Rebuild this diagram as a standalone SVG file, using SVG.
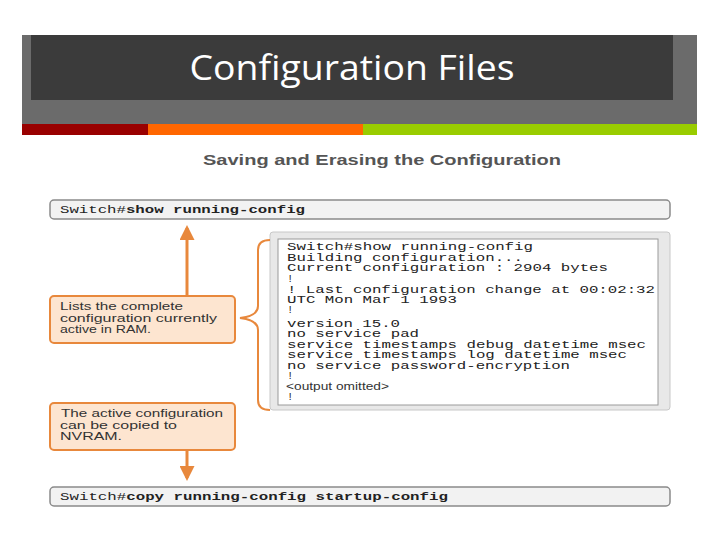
<svg xmlns="http://www.w3.org/2000/svg" width="720" height="540" viewBox="0 0 720 540">
<defs>
<style>
.mono{font-family:"Liberation Mono","DejaVu Sans Mono",monospace;font-size:10.5px;fill:#222}
.b{font-weight:bold}
.call{font-family:"Liberation Sans",Arial,sans-serif;font-size:11px;fill:#333}
.cmdbox{fill:#f2f2f2;stroke:#8a8a8a;stroke-width:1.5}
.callbox{fill:#fde5d0;stroke:#e8883c;stroke-width:2}
.arrow{stroke:#e8883c;stroke-width:3;fill:none}
</style>
<marker id="ah" viewBox="0 0 10 10" refX="8" refY="5" markerWidth="5" markerHeight="5" orient="auto">
<path d="M0,0 L10,5 L0,10 z" fill="#e8883c"/>
</marker>
</defs>
<rect width="720" height="540" fill="#ffffff"/>
<g id="header">
<rect x="22" y="35" width="675" height="89" fill="#6b6b6b"/>
<rect x="31" y="35" width="642" height="65" fill="#3b3b3b"/>
<text x="352" y="80" text-anchor="middle" font-family="Open Sans, Liberation Sans, sans-serif" font-size="34" fill="#ffffff" textLength="325" lengthAdjust="spacingAndGlyphs">Configuration Files</text>
<rect x="22" y="124" width="126" height="11" fill="#990000"/>
<rect x="148" y="124" width="215" height="11" fill="#ff6600"/>
<rect x="363" y="124" width="334" height="11" fill="#99cc00"/>
</g>
<g id="subtitle">
<text x="382" y="165" text-anchor="middle" font-family="Liberation Sans, Arial, sans-serif" font-size="14" font-weight="bold" fill="#555" textLength="358" lengthAdjust="spacingAndGlyphs">Saving and Erasing the Configuration</text>
</g>
<g id="cmd1">
<rect class="cmdbox" x="50" y="200" width="620" height="19" rx="4"/>
<text class="mono" x="60" y="213" textLength="245" lengthAdjust="spacingAndGlyphs">Switch#<tspan class="b">show running-config</tspan></text>
</g>
<g id="callout1">
<rect class="callbox" x="50" y="296" width="185" height="47" rx="4"/>
<text class="call" x="60" y="310" textLength="123" lengthAdjust="spacingAndGlyphs">Lists the complete</text>
<text class="call" x="60" y="322" textLength="157" lengthAdjust="spacingAndGlyphs">configuration currently</text>
<text class="call" x="60" y="333" textLength="91" lengthAdjust="spacingAndGlyphs">active in RAM.</text>
</g>
<g id="callout2">
<rect class="callbox" x="50" y="403" width="185" height="47" rx="4"/>
<text class="call" x="61" y="417" textLength="162" lengthAdjust="spacingAndGlyphs">The active configuration</text>
<text class="call" x="60" y="429" textLength="117" lengthAdjust="spacingAndGlyphs">can be copied to</text>
<text class="call" x="60" y="440" textLength="62" lengthAdjust="spacingAndGlyphs">NVRAM.</text>
</g>
<g id="output">
<rect x="270" y="232" width="400" height="178" rx="3" fill="#e8e8e8" stroke="#c8c8c8" stroke-width="1"/>
<rect x="278" y="239" width="380" height="166" fill="#ffffff" stroke="#9a9a9a" stroke-width="1"/>
<g class="mono">
<text x="287" y="250" textLength="246" lengthAdjust="spacingAndGlyphs">Switch#show running-config</text>
<text x="287" y="261" textLength="236" lengthAdjust="spacingAndGlyphs">Building configuration...</text>
<text x="287" y="271" textLength="321" lengthAdjust="spacingAndGlyphs">Current configuration : 2904 bytes</text>
<text x="287" y="282">!</text>
<text x="287" y="293" textLength="368" lengthAdjust="spacingAndGlyphs">! Last configuration change at 00:02:32</text>
<text x="287" y="303" textLength="170" lengthAdjust="spacingAndGlyphs">UTC Mon Mar 1 1993</text>
<text x="287" y="313">!</text>
<text x="287" y="327" textLength="113" lengthAdjust="spacingAndGlyphs">version 15.0</text>
<text x="287" y="337" textLength="132" lengthAdjust="spacingAndGlyphs">no service pad</text>
<text x="287" y="348" textLength="359" lengthAdjust="spacingAndGlyphs">service timestamps debug datetime msec</text>
<text x="287" y="358" textLength="340" lengthAdjust="spacingAndGlyphs">service timestamps log datetime msec</text>
<text x="287" y="369" textLength="283" lengthAdjust="spacingAndGlyphs">no service password-encryption</text>
<text x="287" y="379">!</text>
<text x="287" y="400">!</text>
</g>
<text class="call" x="286" y="390" textLength="103" lengthAdjust="spacingAndGlyphs">&lt;output omitted&gt;</text>
</g>
<g id="cmd2">
<rect class="cmdbox" x="50" y="487" width="620" height="19" rx="4"/>
<text class="mono" x="60" y="500" textLength="388" lengthAdjust="spacingAndGlyphs">Switch#<tspan class="b">copy running-config startup-config</tspan></text>
</g>
<g id="connectors">
<line class="arrow" x1="187" y1="296" x2="187" y2="228" marker-end="url(#ah)"/>
<line class="arrow" x1="187" y1="450" x2="187" y2="478" marker-end="url(#ah)"/>
<path d="M270,240 Q258,240 258,250 L258,306 Q258,316 240,318 Q258,320 258,330 L258,400 Q258,410 270,410" fill="none" stroke="#e8883c" stroke-width="2"/>
</g>
</svg>
